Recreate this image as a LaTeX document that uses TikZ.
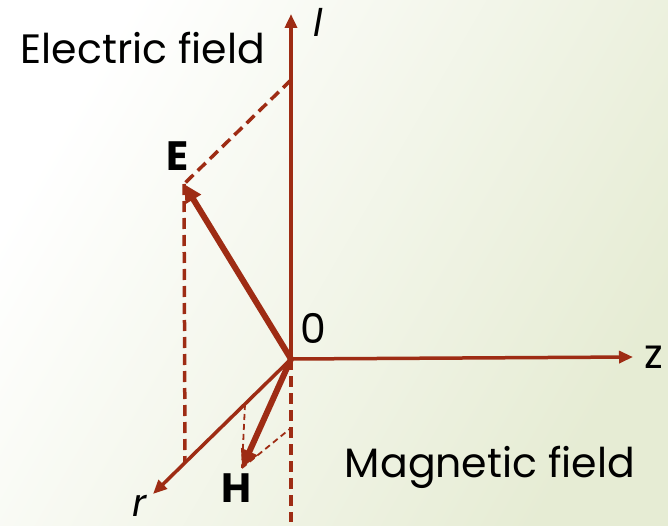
\documentclass[tikz,border=0pt]{standalone}
\usepackage{fontspec}
\setmainfont{Poppins}
\usetikzlibrary{arrows.meta}
\definecolor{axred}{RGB}{158,44,20}
\definecolor{bgright}{RGB}{230,236,212}
\begin{document}
\begin{tikzpicture}[x=1pt,y=-1pt,
  ax/.style={draw=axred,line width=3.5pt,-{Triangle[length=14pt,width=12pt]}},
  vec/.style={draw=axred,line width=6pt,-{Triangle[length=18pt,width=17pt]}},
  dsh/.style={draw=axred,line width=3.5pt,dash pattern=on 11pt off 6pt},
  tdsh/.style={draw=axred,line width=1.8pt,dash pattern=on 6pt off 4pt},
  lbl/.style={inner sep=0pt,font=\fontsize{41}{48}\selectfont},
  ital/.style={inner sep=0pt,font=\fontsize{38}{44}\selectfont\itshape},
  bold/.style={inner sep=0pt,font=\fontsize{41}{48}\selectfont\bfseries}]
\shade[left color=white,right color=bgright,shading angle=60] (0,0) rectangle (668,526);
\useasboundingbox (0,0) rectangle (668,526);
\coordinate (O) at (291,359);
\coordinate (Ltop) at (291,14);
\coordinate (Lp) at (291,80);
\coordinate (Zend) at (633,357);
\coordinate (E) at (184,184);
\coordinate (Rend) at (153,494);
\coordinate (Rp) at (185,463);
\coordinate (H) at (242,468);
\coordinate (Hr) at (245,404);
\coordinate (Hl) at (291,428);
\coordinate (Bot) at (291,522);
% dashed projections
\draw[dsh] (Lp) -- (E);
\draw[dsh] (E) -- (Rp);
\draw[dsh] (O) -- (Bot);
\draw[tdsh] (Hr) -- (H);
\draw[tdsh] (H) -- (Hl);
% axes
\draw[ax] (O) -- (Ltop);
\draw[ax] (O) -- (Zend);
\draw[ax] (O) -- (Rend);
% vectors
\draw[vec] (O) -- (E);
\draw[vec] (O) -- (H);
% labels
\node[lbl,anchor=base] (tE) at (143,64) {Electric field};
\node[lbl,anchor=base] (tM) at (490,477) {Magnetic field};
\node[ital,anchor=base] (tl) at (318,37) {l};
\node[lbl,anchor=base] (tz) at (654,368) {z};
\node[ital] (tr) at (140,506) {r};
\node[lbl,anchor=base] (t0) at (313,343) {0};
\node[bold,anchor=base] (tEE) at (178,171) {E};
\node[bold,anchor=base] (tH) at (236,502) {H};
\end{tikzpicture}
\end{document}
